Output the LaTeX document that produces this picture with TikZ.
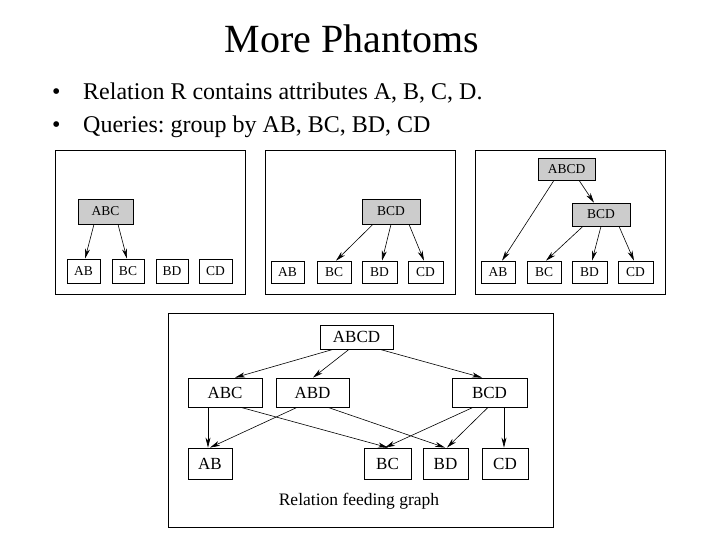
\documentclass[tikz,border=0pt]{standalone}
\usepackage{fontspec}
\setmainfont{Liberation Serif}
\usetikzlibrary{arrows.meta,calc}
\begin{document}
\frenchspacing
\begin{tikzpicture}[x=1pt,y=-1pt,
  box/.style={draw=black,line width=0.6pt,inner sep=0pt,font=\fontsize{13.5}{15}\selectfont},
  gbox/.style={box,fill=gray!40},
  bbox/.style={draw=black,line width=0.8pt,inner sep=0pt,font=\fontsize{17}{19}\selectfont},
  arr/.style={-{Stealth[length=10pt,width=5pt,inset=3pt]},line width=0.6pt},
  frame/.style={draw=black,line width=0.8pt},
  bullet/.style={anchor=base west,inner sep=0pt,font=\fontsize{24}{28}\selectfont}]
\useasboundingbox (0,0) rectangle (720,540);
% title and bullets
\node[anchor=base,inner sep=0pt,font=\fontsize{40}{44}\selectfont] (title) at (352,53) {More Phantoms};
\node[bullet] (b1) at (52,100) {\textbullet};
\node[bullet] (t1) at (83,100) {Relation R contains attributes A, B, C, D.};
\node[bullet] (b2) at (52,133) {\textbullet};
\node[bullet] (t2) at (83,133) {Queries: group by AB, BC, BD, CD};
% panel 1
\draw[frame] (55,150) rectangle (245,294);
\node[gbox,minimum width=55pt,minimum height=25pt] (p1abc) at (105.5,211.5) {ABC};
\node[box,minimum width=33pt,minimum height=24pt] (p1ab) at (83.5,271) {AB};
\node[box,minimum width=32pt,minimum height=24pt] (p1bc) at (128,271) {BC};
\node[box,minimum width=32pt,minimum height=24pt] (p1bd) at (172,271) {BD};
\node[box,minimum width=33pt,minimum height=24pt] (p1cd) at (215.5,271) {CD};
\draw[arr] ([xshift=-11.5pt]p1abc.south) -- ([xshift=1.5pt]p1ab.north);
\draw[arr] ([xshift=12.5pt]p1abc.south) -- ([xshift=-1pt]p1bc.north);
% panel 2
\draw[frame] (265,150) rectangle (455,294);
\node[gbox,minimum width=58pt,minimum height=25pt] (p2bcd) at (391,211.5) {BCD};
\node[box,minimum width=33pt,minimum height=22pt] (p2ab) at (287.5,272) {AB};
\node[box,minimum width=34pt,minimum height=22pt] (p2bc) at (334,272) {BC};
\node[box,minimum width=35pt,minimum height=22pt] (p2bd) at (379.5,272) {BD};
\node[box,minimum width=35pt,minimum height=22pt] (p2cd) at (425.5,272) {CD};
\draw[arr] ([xshift=-18pt]p2bcd.south) -- ([xshift=2pt]p2bc.north);
\draw[arr] (p2bcd.south) -- ([xshift=2.5pt]p2bd.north);
\draw[arr] ([xshift=18pt]p2bcd.south) -- ([xshift=-1.5pt]p2cd.north);
% panel 3
\draw[frame] (475,150) rectangle (665,294);
\node[gbox,minimum width=57pt,minimum height=22pt] (p3abcd) at (566.5,169) {ABCD};
\node[gbox,minimum width=58pt,minimum height=23pt] (p3bcd) at (601,214.5) {BCD};
\node[box,minimum width=34pt,minimum height=22pt] (p3ab) at (498,272) {AB};
\node[box,minimum width=34pt,minimum height=22pt] (p3bc) at (544,272) {BC};
\node[box,minimum width=35pt,minimum height=22pt] (p3bd) at (589.5,272) {BD};
\node[box,minimum width=35pt,minimum height=22pt] (p3cd) at (635.5,272) {CD};
\draw[arr] ([xshift=-12.5pt]p3abcd.south) -- ([xshift=4pt]p3ab.north);
\draw[arr] ([xshift=12.5pt]p3abcd.south) -- ([xshift=-7pt]p3bcd.north);
\draw[arr] ([xshift=-18pt]p3bcd.south) -- ([xshift=2pt]p3bc.north);
\draw[arr] (p3bcd.south) -- ([xshift=2.5pt]p3bd.north);
\draw[arr] ([xshift=18pt]p3bcd.south) -- ([xshift=-1.5pt]p3cd.north);
% panel 4
\draw[frame] (168,313) rectangle (553,527);
\node[bbox,minimum width=73pt,minimum height=24pt] (abcd) at (356.5,337) {ABCD};
\node[bbox,minimum width=74pt,minimum height=29pt] (abc) at (225,392.5) {ABC};
\node[bbox,minimum width=73pt,minimum height=29pt] (abd) at (312.5,392.5) {ABD};
\node[bbox,minimum width=75pt,minimum height=29pt] (bcd) at (489.5,392.5) {BCD};
\node[bbox,minimum width=44pt,minimum height=31pt] (ab) at (210,463.5) {AB};
\node[bbox,minimum width=47pt,minimum height=31pt] (bc) at (387.5,463.5) {BC};
\node[bbox,minimum width=45pt,minimum height=31pt] (bd) at (445.5,463.5) {BD};
\node[bbox,minimum width=46pt,minimum height=31pt] (cd) at (505,463.5) {CD};
\node[inner sep=0pt,font=\fontsize{17.5}{19}\selectfont] (cap) at (359,501) {Relation feeding graph};
\draw[arr] ([xshift=-23.5pt]abcd.south) -- ([xshift=10pt]abc.north);
\draw[arr] ([xshift=-7.5pt]abcd.south) -- ([xshift=0.5pt]abd.north);
\draw[arr] ([xshift=23.5pt]abcd.south) -- ([xshift=-7.5pt]bcd.north);
\draw[arr] ([xshift=-17pt]abc.south) -- ([xshift=-2pt]ab.north);
\draw[arr] ([xshift=16pt]abc.south) -- ([xshift=0.5pt]bc.north);
\draw[arr] ([xshift=-15.5pt]abd.south) -- (ab.north);
\draw[arr] ([xshift=15.5pt]abd.south) -- ([xshift=-0.5pt]bd.north);
\draw[arr] ([xshift=-16.5pt]bcd.south) -- ([xshift=-2.5pt]bc.north);
\draw[arr] ([xshift=-1.5pt]bcd.south) -- ([xshift=1.5pt]bd.north);
\draw[arr] ([xshift=14.5pt]bcd.south) -- ([xshift=-1pt]cd.north);
\end{tikzpicture}
\end{document}
